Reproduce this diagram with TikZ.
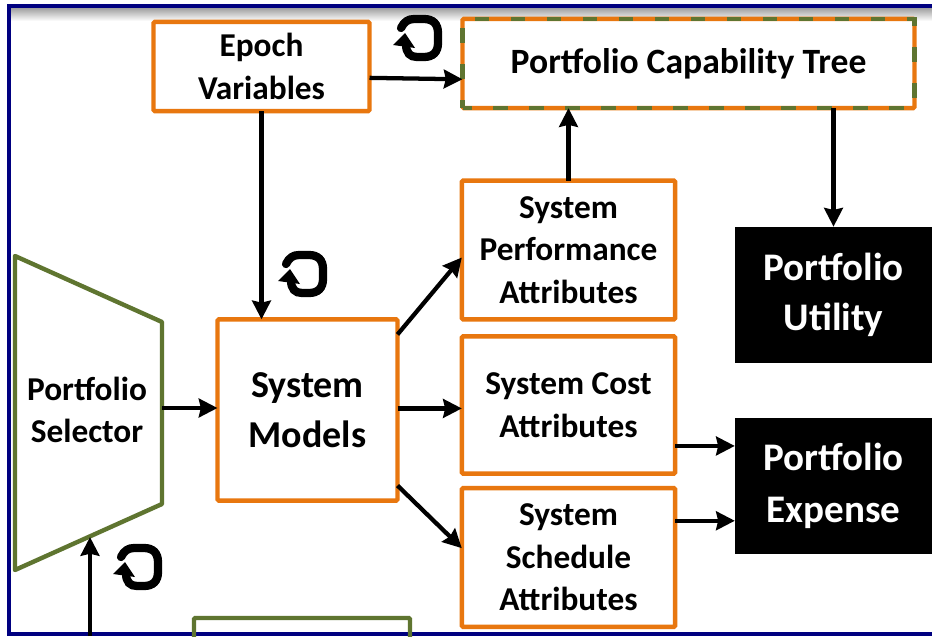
\documentclass[tikz,border=0pt]{standalone}
\usepackage{fontspec}
\setmainfont{Carlito}
\usetikzlibrary{arrows.meta,positioning}
\definecolor{boxorange}{HTML}{E8770F}
\definecolor{boxgreen}{HTML}{5F7530}
\definecolor{framenavy}{HTML}{000080}
\tikzset{font=\bfseries}
\tikzstyle{attr}=[draw=boxorange,line width=3.3pt,fill=white,rounded corners=1pt,align=center,inner sep=0pt,outer sep=0pt]
\tikzstyle{result}=[fill=black,text=white,align=center,inner sep=0pt,outer sep=0pt,minimum width=148pt,minimum height=102.5pt]
\tikzstyle{flow}=[-{Stealth[length=14pt,width=14pt,inset=1.5pt]},line width=3.2pt,black]
\newcommand{\reloadicon}[1]{%
\begin{scope}[shift={#1}]
\draw[line width=6.2pt,line cap=round] (-18,-10) .. controls (-15,-16) and (-11,-19) .. (-5,-19)
 -- (5,-19) .. controls (14,-19) and (19,-14) .. (19,-5) -- (19,5) .. controls (19,14) and (14,19) .. (5,19)
 -- (-2,19) .. controls (-9,19) and (-13,15) .. (-13,6);
\fill (-26,7) -- (-14,-5) -- (-4,10) -- cycle;
\end{scope}}

\begin{document}
\begin{tikzpicture}[x=0.75pt,y=-0.75pt]
\useasboundingbox (0,0) rectangle (932,636);
\clip (0,0) rectangle (932,636);
\fill[white] (0,0) rectangle (932,636);
% frame
\shade[top color=black!40,bottom color=white] (9,7) rectangle (932,21);
\draw[framenavy,line width=3pt] (932,6) -- (9,6) -- (9,634) -- (932,634);
% boxes
\node[attr,minimum width=162pt,minimum height=67pt,font=\bfseries\fontsize{25}{32}\selectfont] (epoch) at (261.5,66.5) {Epoch\\Variables};
\node[attr,minimum width=339pt,minimum height=67pt,font=\bfseries\fontsize{26.7}{30}\selectfont] (tree) at (688.5,63.5) {Portfolio Capability Tree};
\draw[boxgreen,line width=3.3pt,dash pattern=on 11pt off 16pt,dash phase=5pt] (tree.south west) rectangle (tree.north east);
\node[attr,minimum width=160pt,minimum height=104pt,font=\bfseries\fontsize{25}{32}\selectfont] (perf) at (568.5,250) {System\\Performance\\Attributes};
\node[attr,minimum width=160pt,minimum height=103pt,font=\bfseries\fontsize{25}{32}\selectfont] (cost) at (568.5,405) {System Cost\\Attributes};
\node[attr,minimum width=160pt,minimum height=104pt,font=\bfseries\fontsize{25}{32}\selectfont] (sched) at (568.5,557.5) {System\\Schedule\\Attributes};
\node[attr,minimum width=135pt,minimum height=136pt,font=\bfseries\fontsize{28.5}{37.5}\selectfont] (models) at (307.5,410) {System\\Models};
\node[result,font=\bfseries\fontsize{29.3}{38}\selectfont] (utility) at (833.5,295) {Portfolio\\Utility};
\node[result,font=\bfseries\fontsize{29.3}{39}\selectfont] (expense) at (833.5,486) {\rule{0pt}{8pt}Portfolio\\Expense};
% selector
\draw[boxgreen,line width=3.3pt,line join=round,fill=white] (15,256) -- (162,322) -- (162,504) -- (15,570) -- cycle;
\node[align=center,font=\bfseries\fontsize{25}{32}\selectfont] (selector) at (87,410) {Portfolio\\Selector};
\coordinate (selectorE) at (162,408);
\coordinate (selectorS) at (90,537);
\coordinate (feed) at (90,636);
\draw[boxgreen,line width=3.3pt,rounded corners=1pt] (194,640) -- (194,618) -- (410,618) -- (410,640);
% arrows
\path[flow]
(epoch.-6) edge (tree.184)
(epoch.south) edge (epoch.south |- models.north)
(perf.north) edge (perf.north |- tree.south)
(utility.north |- tree.south) edge (utility.north)
(models.40) edge (perf.184)
(models.1) edge (models.1 -| cost.west)
(models.-40) edge (sched.175)
(cost.-21) edge (cost.-21 -| expense.west)
(sched.19) edge (sched.19 -| expense.west)
(selectorE) edge (selectorE -| models.west)
(feed) edge (selectorS);
% reload marks
\reloadicon{(419,38)}
\reloadicon{(304,274)}
\reloadicon{(139,567)}
\end{tikzpicture}
\end{document}
